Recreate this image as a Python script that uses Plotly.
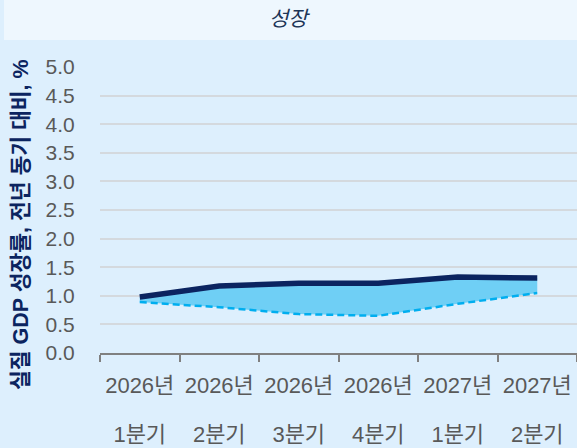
import plotly.graph_objects as go

categories = ["2026Q1", "2026Q2", "2026Q3", "2026Q4", "2027Q1", "2027Q2"]
year_labels = ["2026년", "2026년", "2026년", "2026년", "2027년", "2027년"]
quarter_labels = ["1분기", "2분기", "3분기", "4분기", "1분기", "2분기"]
upper_values = [0.98, 1.17, 1.22, 1.22, 1.33, 1.31]
lower_values = [0.89, 0.80, 0.68, 0.65, 0.86, 1.05]
y_ticks = [0.0, 0.5, 1.0, 1.5, 2.0, 2.5, 3.0, 3.5, 4.0, 4.5, 5.0]

FONT = "Liberation Sans, Noto Sans CJK KR, sans-serif"
NAVY = "#0b2460"
GREY = "#595959"

fig = go.Figure()
# fill band
fig.add_trace(go.Scatter(x=categories, y=lower_values, mode="lines",
                         line=dict(width=0, color="rgba(0,0,0,0)"), showlegend=False, hoverinfo="skip"))
fig.add_trace(go.Scatter(x=categories, y=upper_values, mode="lines", fill="tonexty",
                         fillcolor="#6fcff5", line=dict(width=0, color="rgba(0,0,0,0)"),
                         showlegend=False, hoverinfo="skip"))
# lines
fig.add_trace(go.Scatter(x=categories, y=lower_values, mode="lines",
                         line=dict(color="#00aeef", width=2.5, dash="7px,4px"), showlegend=False))
fig.add_trace(go.Scatter(x=categories, y=upper_values, mode="lines",
                         line=dict(color=NAVY, width=5.5), showlegend=False))
# invisible trace for second label row axis
fig.add_trace(go.Scatter(x=categories, y=upper_values, mode="lines", xaxis="x2",
                         line=dict(width=0, color="rgba(0,0,0,0)"), showlegend=False, hoverinfo="skip"))

fig.update_layout(
    width=577, height=448,
    margin=dict(l=100, r=0, t=67, b=95),
    paper_bgcolor="#ddeffd", plot_bgcolor="#ddeffd",
    font=dict(family=FONT, color=GREY, size=20),
    xaxis=dict(type="category", categoryarray=categories, range=[-0.5, 5.5],
               tickvals=categories, ticktext=year_labels, tickangle=0, automargin=False,
               showgrid=False, showline=True, linecolor="#808080", linewidth=2,
               ticks="outside", tickson="boundaries", ticklen=7, tickwidth=2, tickcolor="#808080",
               tickfont=dict(size=22, color=GREY), ticklabelstandoff=12, zeroline=False),
    xaxis2=dict(type="category", categoryarray=categories, range=[-0.5, 5.5], overlaying="x",
                anchor="y", side="bottom", tickvals=categories, ticktext=quarter_labels,
                tickangle=0, automargin=False,
                showgrid=False, showline=False, ticks="", zeroline=False,
                tickfont=dict(size=22, color=GREY), ticklabelstandoff=66),
    yaxis=dict(range=[0, 5], tickvals=y_ticks, tickformat=".1f", showgrid=True,
               gridcolor="#d4d9de", gridwidth=1.5, zeroline=False, showline=False,
               ticks="outside", ticklen=20, tickcolor="rgba(0,0,0,0)",
               tickfont=dict(size=21, color=GREY)),
    shapes=[dict(type="rect", xref="paper", yref="paper",
                 x0=(4 - 100) / 477, x1=1.0, y0=(353 - 40) / 286, y1=(353 + 10) / 286,
                 fillcolor="#eef7fe", line=dict(width=0), layer="below")],
    annotations=[
        dict(text="<i>성장</i>", xref="paper", yref="paper",
             x=(289 - 100) / 477, y=(353 - 18) / 286, showarrow=False,
             font=dict(size=21, color="#1d3557", family=FONT), xanchor="center", yanchor="middle"),
        dict(text="<b>실질 GDP 성장률, 전년 동기 대비, %</b>", xref="paper", yref="paper",
             x=(21 - 100) / 477, y=(353 - 225) / 286, textangle=-90, showarrow=False,
             font=dict(size=21.5, color=NAVY, family=FONT), xanchor="center", yanchor="middle"),
    ],
)

fig.write_html("out.html")
